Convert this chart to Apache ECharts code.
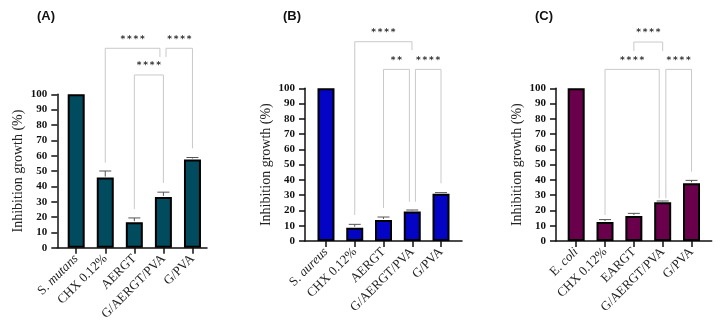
<!DOCTYPE html>
<html>
<head>
<meta charset="utf-8">
<script src="https://cdn.jsdelivr.net/npm/echarts@6/dist/echarts.min.js"></script>
<style>
html, body { margin: 0; padding: 0; background: #fff; }
#chart { width: 722px; height: 334px; }
</style>
</head>
<body>
<div id="chart"></div>
<script>
// categories
const labelsA = ['S. mutans', 'CHX 0.12%', 'AERGT', 'G/AERGT/PVA', 'G/PVA'];
const labelsB = ['S. aureus', 'CHX 0.12%', 'AERGT', 'G/AERGT/PVA', 'G/PVA'];
const labelsC = ['E. coli', 'CHX 0.12%', 'EARGT', 'G/AERGT/PVA', 'G/PVA'];
const positions = [1, 2, 3, 4, 5];

// mean inhibition (%) and upper error
const meanA = [100, 45.7, 16.6, 33.1, 57.5];
const errA = [0, 4.3, 2.8, 3.1, 1.3];
const meanB = [100, 8.7, 13.8, 19.4, 31.0];
const errB = [0, 2.2, 1.9, 0.9, 0.7];
const meanC = [100, 12.4, 16.4, 25.3, 37.8];
const errC = [0, 1.6, 1.7, 0.9, 1.9];

// significance brackets: [xLeft, xRight, yLeftEnd, yTop, yRightEnd]
const bracketsA = [[2, 3.88, 55.4, 130, 124.3], [4.09, 5, 124.3, 130, 64.8], [3, 4, 25.2, 112.6, 42.2]];
const starsA = ['****', '****', '****'];
const bracketsB = [[2, 3.99, 17, 130.5, 125], [3, 3.9, 21.6, 112.4, 25.7], [4.11, 5, 25.7, 112.4, 37.8]];
const starsB = ['****', '**', '****'];
const bracketsC = [[3, 4, 124.4, 130.3, 124.4], [2, 3.88, 17, 112.4, 28], [4.11, 5, 28, 112.4, 45.4]];
const starsC = ['****', '****', '****'];

const panels = [
    { title: '(A)', titleLeft: 32, labels: labelsA, mean: meanA, err: errA, brackets: bracketsA, stars: starsA,
      color: '#004b5e', grid: { left: 57.3, top: 94.3, width: 149.7, height: 153.4 }, min: 0.35, max: 5.5 },
    { title: '(B)', titleLeft: 278, labels: labelsB, mean: meanB, err: errB, brackets: bracketsB, stars: starsB,
      color: '#0404c4', grid: { left: 305, top: 88.3, width: 157, height: 152.7 }, min: 0.27, max: 5.73 },
    { title: '(C)', titleLeft: 530, labels: labelsC, mean: meanC, err: errC, brackets: bracketsC, stars: starsC,
      color: '#6a004c', grid: { left: 556, top: 88.3, width: 155.7, height: 152.7 }, min: 0.3, max: 5.7 }
];

const serif = 'Liberation Serif';

function fmtLabel(text) {
    const m = text.match(/^([SE]\. )(.+)$/);
    if (m) return '{r|' + m[1] + '}{i|' + m[2] + '}';
    return '{r|' + text + '}';
}

const option = { animation: false, title: [], grid: [], xAxis: [], yAxis: [], series: [] };

panels.forEach((p, i) => {
    option.title.push({
        text: p.title, left: p.titleLeft, top: 5,
        textStyle: { fontFamily: 'Liberation Sans', fontWeight: 'bold', fontSize: 13, color: '#111' }
    });
    option.grid.push(p.grid);
    option.xAxis.push({
        type: 'value', gridIndex: i, min: p.min, max: p.max,
        splitLine: { show: false },
        axisLine: { show: true, onZero: false, lineStyle: { color: '#111', width: 1.5 } },
        axisTick: { show: true, customValues: positions, length: 6, lineStyle: { color: '#111', width: 1.5 } },
        axisLabel: {
            customValues: positions, rotate: 45, margin: 9,
            formatter: v => fmtLabel(p.labels[Math.round(v) - 1]),
            rich: {
                r: { fontFamily: serif, fontSize: 13, color: '#222' },
                i: { fontFamily: serif, fontSize: 13, fontStyle: 'italic', color: '#222' }
            }
        }
    });
    option.yAxis.push({
        type: 'value', gridIndex: i, min: 0, max: 100, interval: 10,
        name: 'Inhibition growth (%)', nameLocation: 'middle', nameGap: 32,
        nameTextStyle: { fontFamily: serif, fontSize: 14, color: '#222' },
        splitLine: { show: false },
        axisLine: { show: true, lineStyle: { color: '#111', width: 1.5 } },
        axisTick: { show: true, length: 6, lineStyle: { color: '#111', width: 1.5 } },
        axisLabel: { margin: 10, fontFamily: serif, fontWeight: 'bold', fontSize: 11, color: '#111' }
    });
    option.series.push({
        type: 'bar', xAxisIndex: i, yAxisIndex: i, barWidth: 17,
        data: p.mean.map((v, k) => [positions[k], v]),
        itemStyle: { color: p.color, borderColor: '#000', borderWidth: 2 },
        z: 2
    });
    option.series.push({
        type: 'custom', xAxisIndex: i, yAxisIndex: i, z: 3,
        data: p.mean.map((v, k) => [positions[k], v, v + p.err[k]]).filter((d, k) => p.err[k] > 0),
        renderItem: (params, api) => {
            const base = api.coord([api.value(0), api.value(1)]);
            const top = api.coord([api.value(0), api.value(2)]);
            const half = 6;
            return {
                type: 'group', children: [
                    { type: 'line', shape: { x1: base[0], y1: base[1] - 1, x2: top[0], y2: top[1] }, style: { stroke: '#555', lineWidth: 1 } },
                    { type: 'line', shape: { x1: top[0] - half, y1: top[1], x2: top[0] + half, y2: top[1] }, style: { stroke: '#555', lineWidth: 1 } }
                ]
            };
        }
    });
    option.series.push({
        type: 'custom', xAxisIndex: i, yAxisIndex: i, z: 1, clip: false,
        data: p.brackets,
        renderItem: (params, api) => {
            const xl = api.value(0), xr = api.value(1);
            const a = api.coord([xl, api.value(2)]);
            const b = api.coord([xl, api.value(3)]);
            const c = api.coord([xr, api.value(3)]);
            const d = api.coord([xr, api.value(4)]);
            return {
                type: 'group', children: [
                    { type: 'polyline', shape: { points: [a, b, c, d] }, style: { fill: 'none', stroke: '#c9c9c9', lineWidth: 1 } },
                    { type: 'text', style: {
                        text: p.stars[params.dataIndex].split('').join('\u2009'),
                        x: (b[0] + c[0]) / 2, y: b[1] - 9,
                        align: 'center', verticalAlign: 'middle',
                        font: 'bold 9px "DejaVu Sans"', fill: '#333'
                    } }
                ]
            };
        }
    });
});

const chart = echarts.init(document.getElementById('chart'));
chart.setOption(option);
</script>
</body>
</html>
